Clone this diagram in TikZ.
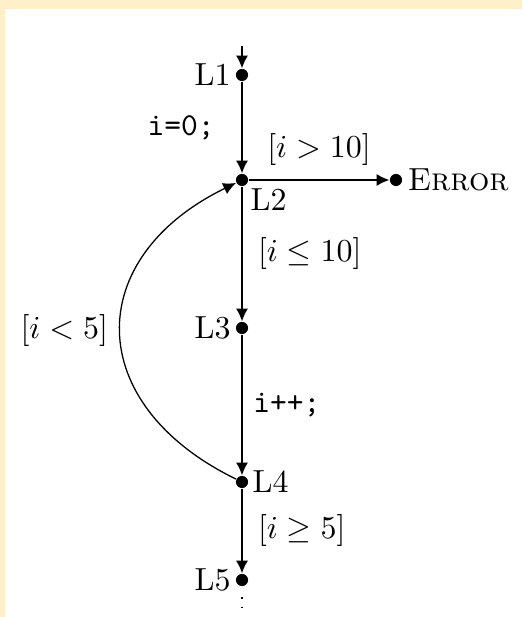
\documentclass[tikz,border=0pt]{standalone}
\usepackage{amsmath,amssymb}
\usetikzlibrary{positioning,arrows.meta}
\definecolor{FrameCream}{RGB}{255,240,201}

\tikzset{
  loc/.style={circle,fill=black,inner sep=0pt,minimum size=3.8pt},
  locname/.style={inner sep=1pt},
  flow/.style={-{Latex[length=4pt,width=3.8pt]}},
}

\begin{document}
\begin{tikzpicture}[x=0.011cm,y=0.011cm]
  \fill[FrameCream] (0,0) rectangle (522,617);
  \fill[white] (5,0) rectangle (522,608);
  \useasboundingbox (0,0) rectangle (522,617);

  % locations
  \node[loc] (l1) at (242,542) {};
  \node[loc] (l2) at (242,437) {};
  \node[loc] (l3) at (242,289) {};
  \node[loc] (l4) at (242,135) {};
  \node[loc] (l5) at (242,37) {};
  \node[loc] (err) at (396,437) {};
  \coordinate (entry) at (242,571);
  \coordinate (exit) at (242,8);

  \node[locname,left=0.3pt of l1] (l1name) {L1};
  \node[locname,below right=0pt of l2] (l2name) {L2};
  \node[locname,left=0.3pt of l3] (l3name) {L3};
  \node[locname,right=0pt of l4] (l4name) {L4};
  \node[locname,left=0.3pt of l5] (l5name) {L5};
  \node[locname,right=0.3pt of err] (errname) {\textsc{Error}};

  % transitions
  \draw[flow] (entry) -- (l1);
  \draw[flow] (l1) -- node[midway,left=5pt] {\texttt{i=0;}} (l2);
  \draw[flow] (l2) -- node[midway,above=1pt] {$[i>10]$} (err);
  \draw[flow] (l2) -- node[midway,right=1.5pt] {$[i\leq 10]$} (l3);
  \draw[flow] (l3) -- node[midway,right] {\texttt{i++;}} (l4);
  \draw[flow] (l4) to[out=154,in=206,looseness=1.48]
    node[midway,left=0.5pt] {$[i<5]$} (l2);
  \draw[flow] (l4) -- node[midway,right=1.5pt] {$[i\geq 5]$} (l5);
  \draw[dash pattern=on 0.4pt off 2.7pt,shorten <=3.3pt] (l5) -- (exit);
\end{tikzpicture}
\end{document}
